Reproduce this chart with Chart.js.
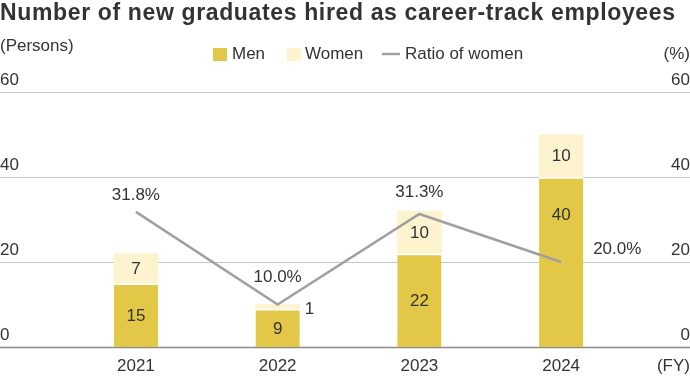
<!DOCTYPE html>
<html>
<head>
<meta charset="utf-8">
<script src="https://cdn.jsdelivr.net/npm/chart.js@4/dist/chart.umd.min.js"></script>
<style>
  html, body { margin: 0; padding: 0; background: #fff; }
  #wrap { width: 690px; height: 376px; position: relative; }
</style>
</head>
<body>
<div id="wrap"><canvas id="chart"></canvas></div>
<script>
const years = ['2021', '2022', '2023', '2024']
const men = [15, 9, 22, 40]
const women = [7, 1, 10, 10]
const ratio = [31.8, 10.0, 31.3, 20.0]
const ticks = [0, 20, 40, 60]

const title = 'Number of new graduates hired as career-track employees'
const font = '"Liberation Sans", Arial, sans-serif'
const txt = '#333'
const menColor = '#e2c846'
const womenColor = '#fef3cf'
const lineColor = '#a0a0a0'

// where the labels go (offsets only, data stays above)
const womenLabelSide = [false, true, false, false]
const menLabelTop = [false, false, false, true]
const ratioDy = [-17, -27, -22, -13]
const ratioRight = [false, false, false, true]

const drawExtras = {
  id: 'drawExtras',
  beforeDatasetsDraw(chart) {
    const ctx = chart.ctx
    const y = chart.scales.y
    ctx.save()
    ticks.forEach((t) => {
      const py = Math.round(y.getPixelForValue(t)) + 0.5
      ctx.strokeStyle = t === 0 ? '#8a8a8a' : '#c4c4c4'
      ctx.lineWidth = t === 0 ? 1.5 : 1.2
      ctx.beginPath()
      ctx.moveTo(0, py)
      ctx.lineTo(690, py)
      ctx.stroke()
    })
    ctx.restore()
  },
  afterDatasetsDraw(chart) {
    const ctx = chart.ctx
    const y = chart.scales.y
    const y1 = chart.scales.y1
    const x = chart.scales.x
    ctx.save()
    ctx.fillStyle = txt

    // title, stretched a little to the width of the original
    ctx.font = 'bold 23px ' + font
    ctx.textAlign = 'left'
    ctx.textBaseline = 'alphabetic'
    const w = ctx.measureText(title).width
    ctx.letterSpacing = ((675 - w) / (title.length - 1)).toFixed(2) + 'px'
    ctx.fillText(title, 0, 20)
    ctx.letterSpacing = '0px'

    // units
    ctx.font = '17px ' + font
    ctx.textBaseline = 'middle'
    ctx.fillText('(Persons)', 0, 46)
    ctx.textAlign = 'right'
    ctx.fillText('(%)', 690, 54)
    ctx.fillText('(FY)', 690, 366)

    // axis tick labels
    ctx.textBaseline = 'alphabetic'
    ticks.forEach((t) => {
      ctx.textAlign = 'left'
      ctx.fillText(String(t), 0, y.getPixelForValue(t) - 7)
      ctx.textAlign = 'right'
      ctx.fillText(String(t), 690, y1.getPixelForValue(t) - 7)
    })

    // category labels
    ctx.textAlign = 'center'
    ctx.textBaseline = 'middle'
    years.forEach((yr, i) => {
      ctx.fillText(yr, x.getPixelForValue(i), 366)
    })

    // legend
    ctx.textAlign = 'left'
    ctx.fillStyle = menColor
    ctx.fillRect(213, 48, 14, 13)
    ctx.fillStyle = womenColor
    ctx.fillRect(287, 48, 14, 13)
    ctx.strokeStyle = lineColor
    ctx.lineWidth = 2.5
    ctx.beginPath()
    ctx.moveTo(382, 54)
    ctx.lineTo(400, 54)
    ctx.stroke()
    ctx.fillStyle = txt
    ctx.fillText('Men', 232, 54)
    ctx.fillText('Women', 305, 54)
    ctx.fillText('Ratio of women', 405, 54)

    // values
    const lMeta = chart.getDatasetMeta(0)
    const mMeta = chart.getDatasetMeta(1)
    const wMeta = chart.getDatasetMeta(2)
    mMeta.data.forEach((bar, i) => {
      ctx.textAlign = 'center'
      const cy = menLabelTop[i] ? bar.y + 37 : (bar.y + bar.base) / 2
      ctx.fillText(String(men[i]), bar.x, cy + 1)
    })
    wMeta.data.forEach((bar, i) => {
      const cy = (bar.y + bar.base) / 2 + 1
      if (womenLabelSide[i]) {
        ctx.textAlign = 'left'
        ctx.fillText(String(women[i]), bar.x + bar.width / 2 + 5, cy + 2)
      } else {
        ctx.textAlign = 'center'
        ctx.fillText(String(women[i]), bar.x, cy)
      }
    })
    lMeta.data.forEach((pt, i) => {
      const label = ratio[i].toFixed(1) + '%'
      if (ratioRight[i]) {
        ctx.textAlign = 'left'
        ctx.fillText(label, pt.x + 32, pt.y + ratioDy[i])
      } else {
        ctx.textAlign = 'center'
        ctx.fillText(label, pt.x, pt.y + ratioDy[i])
      }
    })
    ctx.restore()
  }
}

new Chart(document.getElementById('chart'), {
  data: {
    labels: years,
    datasets: [
      {
        type: 'line',
        label: 'Ratio of women',
        data: ratio,
        yAxisID: 'y1',
        borderColor: lineColor,
        borderWidth: 2.5,
        pointRadius: 0,
        tension: 0,
        order: 0
      },
      {
        type: 'bar',
        label: 'Men',
        data: men,
        backgroundColor: menColor,
        borderColor: '#fff',
        borderWidth: { top: 2, left: 0, right: 0, bottom: 0 },
        borderSkipped: false,
        stack: 's',
        barThickness: 44,
        order: 1
      },
      {
        type: 'bar',
        label: 'Women',
        data: women,
        backgroundColor: womenColor,
        borderWidth: 0,
        stack: 's',
        barThickness: 44,
        order: 1
      }
    ]
  },
  options: {
    responsive: true,
    maintainAspectRatio: false,
    animation: false,
    events: [],
    layout: { padding: { left: 65, right: 58, top: 92, bottom: 29 } },
    plugins: { legend: { display: false }, tooltip: { enabled: false }, title: { display: false } },
    scales: {
      x: { display: false, stacked: true },
      y: { display: false, stacked: true, min: 0, max: 60 },
      y1: { display: false, position: 'right', min: 0, max: 60 }
    }
  },
  plugins: [drawExtras]
})
</script>
</body>
</html>
